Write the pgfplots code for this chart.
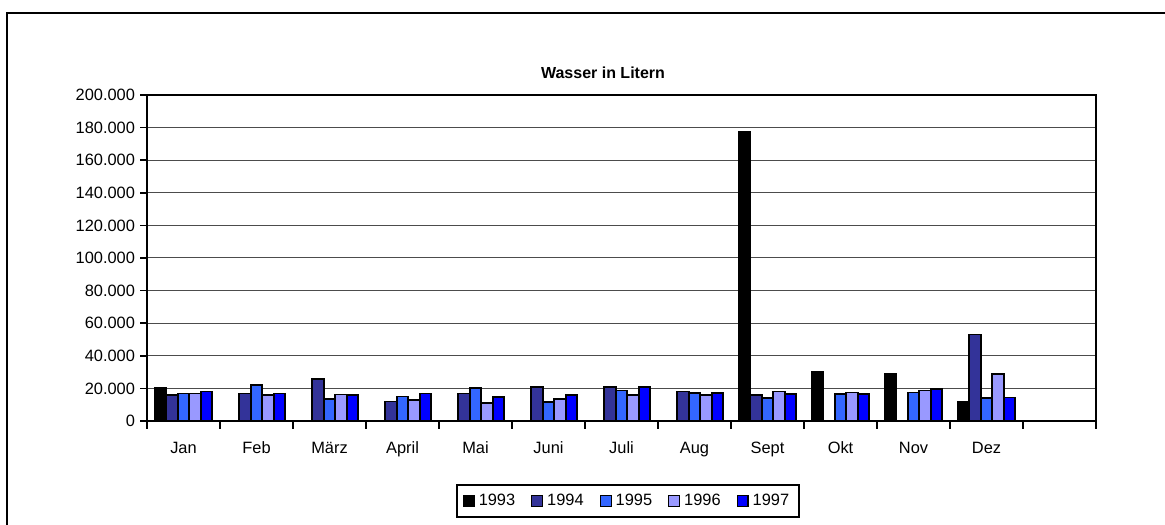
\documentclass[border=0pt]{standalone}
\usepackage{pgfplots}
\pgfplotsset{compat=1.18}
\usepackage{fontspec}
\setmainfont{Liberation Sans}
\definecolor{c93}{HTML}{000000}
\definecolor{c94}{HTML}{333399}
\definecolor{c95}{HTML}{3366FF}
\definecolor{c96}{HTML}{9999FF}
\definecolor{c97}{HTML}{0000FF}
\begin{document}
\begin{tikzpicture}
\begin{axis}[
  scale only axis,
  width=474.5pt, height=163pt,
  ybar=0pt, bar width=5.75pt,
  every axis plot/.append style={draw=black, line width=0.8pt,
    legend image code/.code={\draw[#1,draw=black,line width=0.6pt] (0pt,-2.7pt) rectangle (5.4pt,2.7pt);}},
  xmin=-0.5, xmax=12.5,
  ymin=0, ymax=200000,
  xtick={0,...,11},
  xticklabels={Jan,Feb,März,April,Mai,Juni,Juli,Aug,Sept,Okt,Nov,Dez},
  minor xtick={-0.5,0.5,...,12.5},
  ytick={0,20000,...,200000},
  yticklabels={0,20.000,40.000,60.000,80.000,100.000,120.000,140.000,160.000,180.000,200.000},
  scaled y ticks=false,
  tick pos=left,
  tick align=outside,
  major x tick style={draw=none},
  minor x tick style={black, line width=0.8pt},
  minor tick length=4pt,
  major tick length=3.5pt,
  y tick style={black, line width=0.8pt},
  ymajorgrids,
  grid style={black!70, line width=0.5pt},
  axis line style={black, line width=1pt},
  tick label style={font=\fontsize{8.2pt}{9pt}\selectfont},
  xticklabel style={yshift=-3.5pt},
  yticklabel style={xshift=1pt},
  title={Wasser in Litern},
  title style={font=\bfseries\fontsize{8pt}{9pt}\selectfont, at={(rel axis cs:0.4805,1.0322)}, anchor=center},
  legend columns=5,
  legend style={at={(rel axis cs:0.5068,-0.2454)}, anchor=center, draw=black, line width=0.9pt,
    font=\fontsize{8.2pt}{9pt}\selectfont, inner xsep=3pt, inner ysep=2.5pt,
    /tikz/every odd column/.append style={column sep=0pt},
    /tikz/every even column/.append style={column sep=6pt}},
  clip=false,
]
\addplot[fill=c93] coordinates {(0,20500) (8,177500) (9,30000) (10,29200) (11,11600)};
\addplot[fill=c94] coordinates {(0,15900) (1,16900) (2,25800) (3,12000) (4,16900) (5,21000) (6,21000) (7,18200) (8,15900) (11,53000)};
\addplot[fill=c95] coordinates {(0,16900) (1,22100) (2,13600) (3,15000) (4,20200) (5,11600) (6,18600) (7,17100) (8,14000) (9,16500) (10,17600) (11,14000)};
\addplot[fill=c96] coordinates {(0,16900) (1,15900) (2,16300) (3,12800) (4,11100) (5,13600) (6,16100) (7,16100) (8,18200) (9,17600) (10,18600) (11,28900)};
\addplot[fill=c97] coordinates {(0,18000) (1,16900) (2,16100) (3,16900) (4,14900) (5,16100) (6,21000) (7,17100) (8,16500) (9,16500) (10,19600) (11,14500)};
\legend{1993,1994,1995,1996,1997}
\coordinate (bl) at (rel axis cs:-0.1549,-0.3190);
\coordinate (tr) at (rel axis cs:1.0727,1.2914);
\coordinate (fl) at (rel axis cs:-0.1475,1.2515);
\end{axis}
\draw[line width=0.75pt] (fl |- bl) -- (fl) -- (fl -| tr);
\pgfresetboundingbox
\useasboundingbox (bl) rectangle (tr);
\end{tikzpicture}
\end{document}
